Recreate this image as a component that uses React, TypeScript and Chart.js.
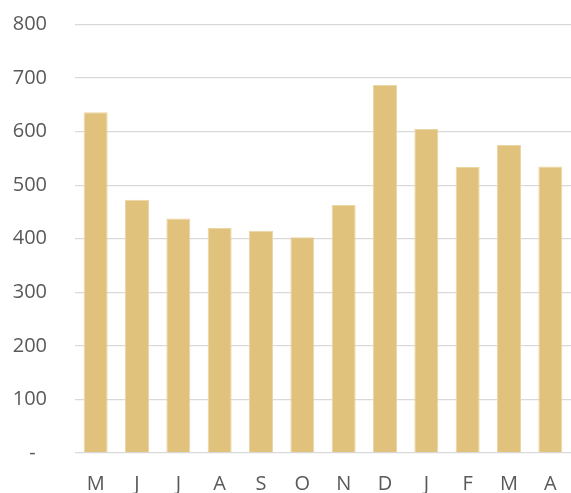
import React, { useEffect, useRef } from "react";
import { Chart, registerables } from "chart.js";

Chart.register(...registerables);

const months = ["M", "J", "J", "A", "S", "O", "N", "D", "J", "F", "M", "A"];
const values = [636, 473, 438, 420, 415, 403, 463, 687, 605, 534, 575, 535];
const yTicks = [0, 100, 200, 300, 400, 500, 600, 700, 800];

const FONT = "'Open Sans', 'Liberation Sans', sans-serif";
const TEXT = "#595959";

export default function App() {
  const ref = useRef<HTMLCanvasElement | null>(null);

  useEffect(() => {
    if (!ref.current) return;
    const chart = new Chart(ref.current, {
      type: "bar",
      data: {
        labels: months,
        datasets: [
          {
            data: values,
            backgroundColor: "#E0C27C",
            borderColor: "#EBD7A4",
            borderWidth: 1,
            barPercentage: 0.58,
            categoryPercentage: 1,
          },
        ],
      },
      options: {
        animation: false,
        responsive: false,
        maintainAspectRatio: false,
        layout: { padding: { top: 24.5, right: 0, bottom: 0, left: 0 } },
        plugins: {
          legend: { display: false },
          tooltip: { enabled: false },
        },
        scales: {
          x: {
            grid: { display: false, drawTicks: true, tickLength: 8 },
            border: { display: false },
            ticks: {
              color: TEXT,
              font: { family: FONT, size: 20 },
              padding: 11,
              maxRotation: 0,
              autoSkip: false,
            },
            afterFit: (s: any) => {
              s.height = 40;
            },
          },
          y: {
            min: 0,
            max: 800,
            afterBuildTicks: (s: any) => {
              s.ticks = yTicks.map((v) => ({ value: v }));
            },
            grid: {
              color: "#D9D9D9",
              lineWidth: 1.3,
              drawTicks: true,
              tickLength: 20,
              tickColor: "rgba(0,0,0,0)",
            },
            border: { display: false },
            ticks: {
              color: TEXT,
              font: { family: FONT, size: 20 },
              padding: 8,
              callback: (v: any) => (Number(v) === 0 ? "-\u2007" : String(v)),
            },
            afterFit: (s: any) => {
              s.width = 75;
            },
          },
        },
      },
    });
    return () => chart.destroy();
  }, []);

  return (
    <div style={{ position: "fixed", left: 0, top: 0, width: 571, height: 493, background: "#fff" }}>
      <canvas ref={ref} width={571} height={493} style={{ display: "block" }} />
    </div>
  );
}
